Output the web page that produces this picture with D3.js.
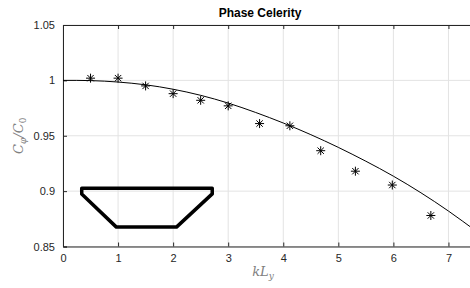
<!DOCTYPE html>
<html>
<head>
<meta charset="utf-8">
<script src="https://cdn.jsdelivr.net/npm/d3@7"></script>
<style>
body { margin: 0; background: #fff; }
svg { display: block; font-family: "Liberation Sans", Arial, sans-serif; }
</style>
</head>
<body>
<div id="món"></div>
<script>
// dades llegides del gràfic
const kMesura = [0.5, 1.0, 1.5, 2.0, 2.5, 3.0, 3.57, 4.12, 4.68, 5.31, 5.98, 6.68];
const cMesura = [1.002, 1.002, 0.995, 0.988, 0.982, 0.977, 0.961, 0.959, 0.9365, 0.918, 0.9055, 0.878];

const kTeoria = [0, 0.5, 1, 1.5, 2, 2.5, 3, 3.5, 4, 4.5, 5, 5.5, 6, 6.5, 7, 7.5];
const cTeoria = [1.000, 0.9998, 0.9985, 0.996, 0.992, 0.9865, 0.9795, 0.971, 0.9615, 0.951, 0.9395, 0.927, 0.9135, 0.8985, 0.882, 0.864];

// silueta del trapezi (unitats de dades)
const trapK = [0.34, 2.71, 2.71, 2.06, 0.97, 0.34];
const trapC = [0.9025, 0.9025, 0.8975, 0.8675, 0.8675, 0.8975];

const xTicks = [0, 1, 2, 3, 4, 5, 6, 7];
const yTicks = [0.85, 0.9, 0.95, 1, 1.05];

const Amplada = 470, Alçada = 288;
const marge = {dalt: 25, dreta: -6, baix: 41.5, esquerra: 63};

const svg = d3.select('#món').append('svg')
	.attr('width', Amplada)
	.attr('height', Alçada);

const x = d3.scaleLinear().domain([0, 7.5]).range([marge.esquerra, Amplada - marge.dreta]);
const y = d3.scaleLinear().domain([0.85, 1.05]).range([Alçada - marge.baix, marge.dalt]);

const gris = '#262626';

// graella
svg.append('g').selectAll('line').data(xTicks).join('line')
	.attr('x1', d => x(d)).attr('x2', d => x(d))
	.attr('y1', y(0.85)).attr('y2', y(1.05))
	.attr('stroke', '#e3e3e3').attr('stroke-width', 1);
svg.append('g').selectAll('line').data(yTicks).join('line')
	.attr('x1', x(0)).attr('x2', x(7.5))
	.attr('y1', d => y(d)).attr('y2', d => y(d))
	.attr('stroke', '#e3e3e3').attr('stroke-width', 1);

// eixos
const eixX = svg.append('g')
	.attr('transform', `translate(0,${y(0.85)})`)
	.call(d3.axisBottom(x).tickValues(xTicks).tickSize(-4).tickPadding(8).tickFormat(d3.format('d')));
const eixXdalt = svg.append('g')
	.attr('transform', `translate(0,${y(1.05)})`)
	.call(d3.axisTop(x).tickValues(xTicks).tickSize(-4).tickFormat(''));
const eixY = svg.append('g')
	.attr('transform', `translate(${x(0)},0)`)
	.call(d3.axisLeft(y).tickValues(yTicks).tickSize(-4).tickPadding(8).tickFormat(d => d3.format('')(d)));

[eixX, eixXdalt, eixY].forEach(e => {
	e.select('.domain').attr('stroke', gris).attr('stroke-width', 1);
	e.selectAll('.tick line').attr('stroke', gris);
	e.selectAll('.tick text').attr('fill', gris).style('font-size', '11px')
		.style('font-family', '"Liberation Sans", Arial, sans-serif');
});

// corba teòrica
const línia = d3.line()
	.x((d, i) => x(kTeoria[i]))
	.y(d => y(d))
	.curve(d3.curveNatural);
svg.append('path')
	.datum(cTeoria)
	.attr('d', línia)
	.attr('fill', 'none')
	.attr('stroke', '#000')
	.attr('stroke-width', 1);

// estrelles a l'estil de matlab (+ i x)
const asterisc = {
	draw(ctx, mida) {
		const r = Math.sqrt(mida) / 2;
		const d = r * Math.SQRT1_2;
		ctx.moveTo(-r, 0); ctx.lineTo(r, 0);
		ctx.moveTo(0, -r); ctx.lineTo(0, r);
		ctx.moveTo(-d, -d); ctx.lineTo(d, d);
		ctx.moveTo(-d, d); ctx.lineTo(d, -d);
	}
};
const estrella = d3.symbol().type(asterisc).size(81);
svg.append('g').selectAll('path').data(kMesura).join('path')
	.attr('transform', (d, i) => `translate(${x(d)},${y(cMesura[i])})`)
	.attr('d', estrella)
	.attr('fill', 'none')
	.attr('stroke', '#000')
	.attr('stroke-width', 1);

// trapezi
const pols = trapK.map((k, i) => [x(k), y(trapC[i])]);
svg.append('polygon')
	.attr('points', pols.map(p => p.join(',')).join(' '))
	.attr('fill', 'none')
	.attr('stroke', '#000')
	.attr('stroke-width', 3.5)
	.attr('stroke-linejoin', 'round');

// títol
svg.append('text')
	.attr('x', 260).attr('y', 17)
	.attr('text-anchor', 'middle')
	.style('font-size', '12px').style('font-weight', 'bold')
	.attr('fill', '#000')
	.text('Phase Celerity');

// etiquetes dels eixos
const etX = svg.append('text')
	.attr('x', 263).attr('y', 276)
	.attr('text-anchor', 'middle')
	.attr('fill', '#808080')
	.style('font-family', '"DejaVu Serif", "Liberation Serif", serif')
	.style('font-style', 'italic')
	.style('font-size', '13px');
etX.append('tspan').text('kL');
etX.append('tspan').attr('dy', 3).style('font-size', '9px').text('y');

const etY = svg.append('text')
	.attr('transform', `translate(23,${y(0.95)}) rotate(-90)`)
	.attr('text-anchor', 'middle')
	.attr('fill', '#808080')
	.style('font-family', '"DejaVu Serif", "Liberation Serif", serif')
	.style('font-style', 'italic')
	.style('font-size', '13px');
etY.append('tspan').text('C');
etY.append('tspan').attr('dy', 3).style('font-size', '9px').text('φ');
etY.append('tspan').attr('dy', -3).text('/C');
etY.append('tspan').attr('dy', 3).style('font-size', '9px').style('font-style', 'normal').text('0');
</script>
</body>
</html>
